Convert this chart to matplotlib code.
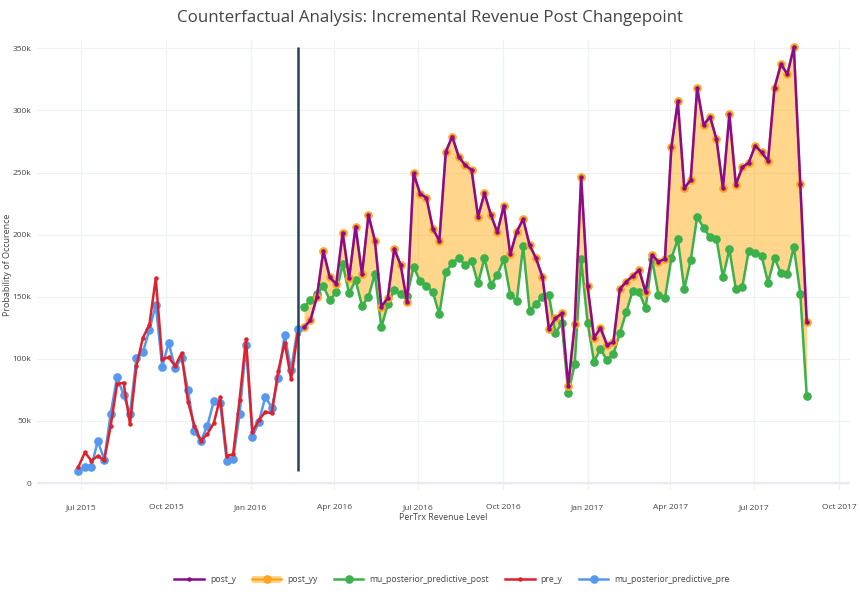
import matplotlib
matplotlib.use("Agg")
import matplotlib.pyplot as plt
import matplotlib.dates as mdates
from matplotlib.ticker import FuncFormatter
from matplotlib.lines import Line2D
from matplotlib.patches import Patch
import pandas as pd
import numpy as np

plt.rcParams['font.family'] = ['Open Sans', 'DejaVu Sans']

# ---- data (values in thousands) ----
pre_start = "2015-06-28"
post_start = "2016-02-28"

pre_y = [13.1, 24.7, 18.0, 21.7, 18.5, 45.9, 79.7, 80.8, 47.5, 94.2, 117.0, 127.2,
         164.8, 99.6, 101.2, 94.2, 104.4, 65.5, 46.1, 34.0, 39.5, 48.1, 69.0, 22.0,
         23.1, 66.8, 115.9, 41.3, 50.7, 57.4, 56.1, 90.2, 113.0, 83.7, 120.0]

mu_posterior_predictive_pre = [9.9, 13.1, 12.9, 34.0, 18.8, 55.6, 85.6, 70.9, 55.6,
                               100.6, 105.2, 123.2, 143.3, 93.7, 113.0, 92.3, 100.9,
                               74.9, 41.6, 33.8, 46.1, 65.8, 64.2, 18.0, 19.1, 55.3,
                               110.9, 37.3, 49.4, 69.5, 60.6, 84.5, 119.2, 91.0, 124.0]

post_y = [125.4, 131.0, 150.0, 186.8, 165.6, 160.2, 201.5, 164.8, 206.4, 168.0,
          215.8, 195.1, 142.0, 149.0, 188.6, 175.5, 145.5, 249.4, 233.0, 229.7,
          204.5, 195.1, 266.7, 279.0, 262.7, 256.0, 252.0, 214.4, 233.2, 215.8,
          201.8, 223.3, 184.1, 202.3, 212.5, 191.6, 180.9, 165.9, 124.0, 132.6,
          136.6, 78.1, 127.8, 246.1, 158.6, 117.0, 124.8, 111.4, 113.3, 156.2,
          162.1, 166.7, 171.5, 153.8, 183.6, 178.2, 180.4, 270.3, 307.3, 237.3,
          244.2, 318.1, 288.3, 294.9, 276.7, 237.3, 296.8, 240.2, 254.2, 257.9,
          271.6, 266.3, 259.3, 318.1, 337.2, 329.3, 350.8, 240.7, 129.6]

mu_posterior_predictive_post = [141.4, 147.3, 152.2, 158.6, 147.3, 153.5, 176.1, 152.7,
                                163.4, 142.7, 150.0, 168.3, 125.4, 143.9, 155.4, 151.9,
                                150.8, 174.2, 162.6, 158.6, 153.5, 135.8, 170.1, 176.9,
                                181.4, 175.5, 179.0, 160.8, 180.9, 159.4, 167.5, 180.3,
                                151.4, 146.5, 190.8, 138.7, 144.1, 150.0, 151.4, 121.0,
                                128.6, 72.2, 95.6, 180.1, 129.0, 97.7, 107.9, 99.0,
                                103.9, 120.5, 137.7, 154.8, 153.8, 140.7, 180.1, 151.4,
                                148.7, 180.9, 196.2, 156.2, 179.5, 214.4, 205.5, 197.8,
                                196.5, 165.6, 188.2, 156.2, 157.6, 187.0, 185.4, 183.0,
                                161.3, 181.4, 168.8, 168.3, 190.2, 152.4, 70.3]

scale = 1000.0
pre_dates = pd.date_range(pre_start, periods=len(pre_y), freq="7D")
post_dates = pd.date_range(post_start, periods=len(post_y), freq="7D")
pre_y_v = np.array(pre_y) * scale
mu_pre_v = np.array(mu_posterior_predictive_pre) * scale
post_y_v = np.array(post_y) * scale
mu_post_v = np.array(mu_posterior_predictive_post) * scale

# ---- colours ----
C_PURPLE = "#8b0a8f"
C_ORANGE = "#ffa51f"
C_FILL = (1.0, 0.647, 0.0, 0.45)
C_GREEN = "#3cb04a"
C_RED = "#e0202a"
C_BLUE = "#5598ee"
C_VLINE = "#2a3f5f"
C_TEXT = "#444444"
C_GRID = "#eef1f5"

fig = plt.figure(figsize=(8.6, 6.0), dpi=100)
ax = fig.add_axes([37 / 860, 1 - 490 / 600, (850 - 37) / 860, (490 - 40) / 600])

# fill between predictive and actual
ax.fill_between(post_dates, mu_post_v, post_y_v, color=C_FILL, linewidth=0, zorder=2)

ax.plot(post_dates, mu_post_v, color=C_GREEN, lw=1.8, marker="o", ms=5.2, zorder=3)
ax.plot(post_dates, post_y_v, color=C_ORANGE, lw=1.8, marker="o", ms=5.2, zorder=4)
ax.plot(post_dates, post_y_v, color=C_PURPLE, lw=1.8, marker="o", ms=2.2, zorder=5)
ax.plot(pre_dates, mu_pre_v, color=C_BLUE, lw=1.8, marker="o", ms=5.2, zorder=4)
ax.plot(pre_dates, pre_y_v, color=C_RED, lw=1.8, marker="o", ms=2.2, zorder=5)

all_vals = np.concatenate([pre_y_v, mu_pre_v, post_y_v, mu_post_v])
ax.vlines(pre_dates[-1], all_vals.min(), all_vals.max(), color=C_VLINE, lw=1.8, zorder=6)

# axes
ax.set_xlim(pd.Timestamp("2015-05-14"), pd.Timestamp("2017-10-13"))
ax.set_ylim(-5600, 356700)
ax.set_yticks(np.arange(0, 350001, 50000))
ax.yaxis.set_major_formatter(FuncFormatter(lambda v, p: "0" if v == 0 else f"{int(v/1000)}k"))
ax.xaxis.set_major_locator(mdates.MonthLocator(bymonth=[1, 4, 7, 10]))
ax.xaxis.set_major_formatter(mdates.DateFormatter("%b %Y"))

for s in ax.spines.values():
    s.set_visible(False)
ax.grid(True, color=C_GRID, lw=0.9, zorder=0)
ax.axhline(0, color="#e8ebf0", lw=1.6, zorder=1)
ax.set_axisbelow(True)
ax.tick_params(axis="both", length=0, labelsize=6.0, labelcolor=C_TEXT)
ax.tick_params(axis="x", pad=10)
ax.tick_params(axis="y", pad=4)

ax.set_xlabel("PerTrx Revenue Level", fontsize=6.3, color=C_TEXT)
ax.set_ylabel("Probability of Occurence", fontsize=6.5, color=C_TEXT)
ax.xaxis.set_label_coords(0.5, -(517 - 490) / 450, transform=ax.transAxes)
ax.xaxis.label.set_va("center")
ax.yaxis.set_label_coords(-(37 - 8) / 813, 0.5)
ax.yaxis.label.set_va("center")

fig.text(430 / 860, 1 - 18 / 600, "Counterfactual Analysis: Incremental Revenue Post Changepoint",
         ha="center", va="center", fontsize=12.2, color=C_TEXT)

handles = [
    Line2D([], [], color=C_PURPLE, lw=1.8, marker="o", ms=2.2),
    (Patch(facecolor=C_FILL, edgecolor="none"),
     Line2D([], [], color=C_ORANGE, lw=1.8, marker="o", ms=5.2)),
    Line2D([], [], color=C_GREEN, lw=1.8, marker="o", ms=5.2),
    Line2D([], [], color=C_RED, lw=1.8, marker="o", ms=2.2),
    Line2D([], [], color=C_BLUE, lw=1.8, marker="o", ms=5.2),
]
labels = ["post_y", "post_yy", "mu_posterior_predictive_post", "pre_y",
          "mu_posterior_predictive_pre"]
leg = fig.legend(handles, labels, loc="center", bbox_to_anchor=(452 / 860, 1 - 580 / 600),
                 ncol=5, frameon=False, fontsize=6.2, handlelength=3.4,
                 columnspacing=1.9, handletextpad=0.7)
for t in leg.get_texts():
    t.set_color(C_TEXT)

fig.savefig("out.png", dpi=100)
